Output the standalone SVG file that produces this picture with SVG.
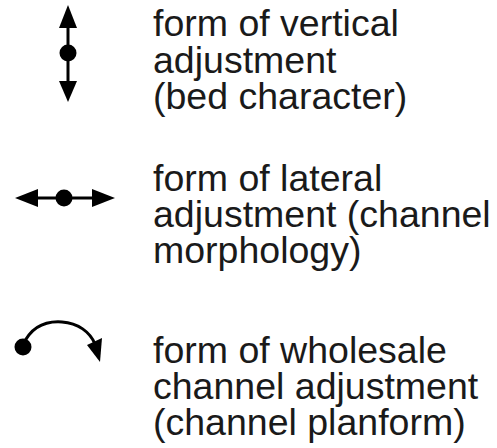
<svg xmlns="http://www.w3.org/2000/svg" width="497" height="448" viewBox="0 0 497 448">
<style>
.lbl{font-family:"Liberation Sans",Arial,sans-serif;font-size:37.5px;fill:#1a1a1a}
.ln{stroke:#000;stroke-width:3;fill:none}
.hd{fill:#000}
</style>
<rect width="497" height="448" fill="#fff"/>
<g id="vertical">
<line class="ln" x1="68" y1="24" x2="68" y2="84"/>
<polygon class="hd" points="68,5 77,28 59,28"/>
<polygon class="hd" points="68,102 77,81 59,81"/>
<circle class="hd" cx="68" cy="53" r="8.5"/>
<text class="lbl" x="153" y="36">form of vertical<tspan x="153" dy="37">adjustment</tspan><tspan x="153" dy="36">(bed character)</tspan></text>
</g>
<g id="lateral">
<line class="ln" x1="34" y1="198" x2="96" y2="198"/>
<polygon class="hd" points="15,198 38,189 38,207"/>
<polygon class="hd" points="115,198 92,189 92,207"/>
<circle class="hd" cx="64" cy="198" r="8.5"/>
<text class="lbl" x="153" y="191">form of lateral<tspan x="153" dy="36">adjustment (channel</tspan><tspan x="153" dy="36">morphology)</tspan></text>
</g>
<g id="wholesale">
<path class="ln" d="M23,345 C32,325 48,321 62,322 C78,323 90,332 95,344"/>
<polygon class="hd" points="100,362 87,345 102,338"/>
<circle class="hd" cx="23" cy="347" r="8.5"/>
<text class="lbl" x="153" y="363">form of wholesale<tspan x="153" dy="36">channel adjustment</tspan><tspan x="153" dy="36">(channel planform)</tspan></text>
</g>
</svg>
